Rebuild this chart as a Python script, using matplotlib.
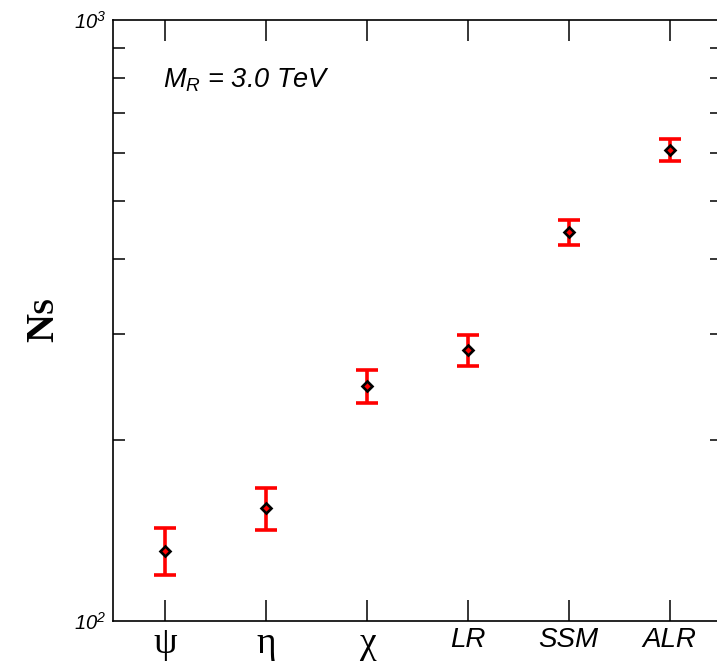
import numpy as np
import matplotlib
matplotlib.use("Agg")
import matplotlib.pyplot as plt

plt.rcParams["mathtext.fontset"] = "custom"
plt.rcParams["mathtext.it"] = "Liberation Sans:italic"
plt.rcParams["mathtext.rm"] = "Liberation Sans:italic"

# signal events for each Z' model at M_R = 3.0 TeV
models = ["\u03c8", "\u03b7", "\u03c7", "LR", "SSM", "ALR"]
n_signal = [131, 154, 246, 282, 444, 608]
n_err = [11.7, 12.4, 15.7, 16.8, 21.1, 24.7]

fig = plt.figure(figsize=(7.17, 6.68), dpi=100)
ax = fig.add_axes([113 / 717, 47 / 668, 609 / 717, 601 / 668])

x = np.arange(1, len(models) + 1)
ax.errorbar(x, n_signal, yerr=n_err, fmt="none", ecolor="red",
            elinewidth=2.6, capsize=7.9, capthick=2.6, zorder=2)
ax.plot(x, n_signal, "D", ms=5, mfc="red", mec="black", mew=1.9, zorder=3)

ax.set_yscale("log")
ax.set_ylim(100, 1000)
ax.set_xlim(0.48, 6.52)

ax.set_yticks([100, 1000])
ax.set_yticklabels([r"$\mathit{10^{2}}$", r"$\mathit{10^{3}}$"], fontsize=14.5)
ax.tick_params(axis="y", which="major", length=0, pad=5)
ax.tick_params(axis="y", which="minor", direction="in", length=8.6, width=1.1,
               left=True, right=True, labelleft=False)
ax.yaxis.set_minor_formatter(matplotlib.ticker.NullFormatter())

ax.set_xticks(x)
ax.set_xticklabels(models)
ax.tick_params(axis="x", which="major", direction="in", length=15, width=1.1,
               top=True, bottom=True, pad=4)
ax.tick_params(axis="x", which="minor", bottom=False, top=False)
for lab in ax.get_xticklabels():
    if lab.get_text() in ("\u03c8", "\u03b7", "\u03c7"):
        lab.set_fontfamily("Liberation Serif")
        lab.set_fontsize(27)
    else:
        lab.set_fontfamily("Liberation Sans")
        lab.set_fontstyle("italic")
        lab.set_fontsize(20)

for sp in ax.spines.values():
    sp.set_linewidth(1.2)

ax.text(0.082, 0.887, r"$M_R$ = 3.0 TeV", transform=ax.transAxes,
        fontsize=19.5, family="Liberation Sans", style="italic", va="baseline")

# axis title N_S written as N with a small capital S
fig.text(53 / 717, (668 - 327) / 668, "N", rotation=90, rotation_mode="anchor",
         ha="center", va="baseline", fontsize=29, family="Liberation Serif",
         weight="bold")
fig.text(53 / 717, (668 - 305) / 668, "S", rotation=90, rotation_mode="anchor",
         ha="center", va="baseline", fontsize=21, family="Liberation Serif",
         weight="bold")

fig.savefig("out.png", dpi=100)
